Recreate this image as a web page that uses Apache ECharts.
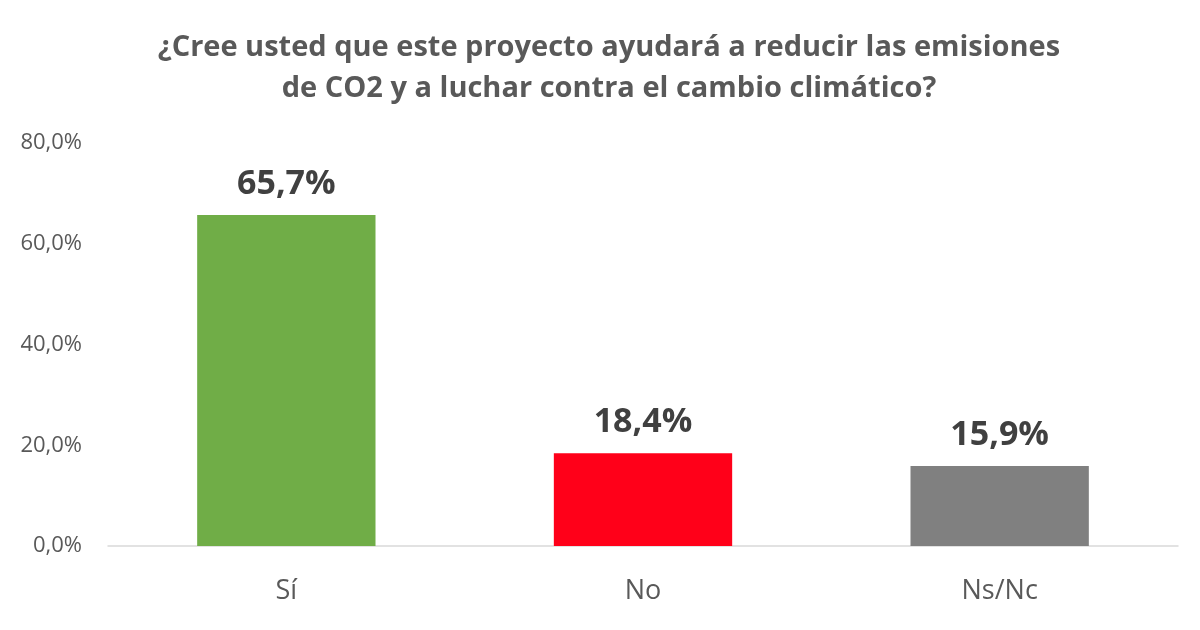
<!DOCTYPE html>
<html><head><meta charset="utf-8">
<script src="https://cdn.jsdelivr.net/npm/echarts@6/dist/echarts.min.js"></script>
<style>html,body{margin:0;padding:0;background:#fff}#c{width:1200px;height:630px}</style>
</head><body><div id="c"></div>
<script>
var categories = ['Sí', 'No', 'Ns/Nc'];
var values = [65.7, 18.4, 15.9];
var barColors = ['#70AD47', '#FF0019', '#808080'];
var yTicks = [0, 20, 40, 60, 80];
var titleText = '¿Cree usted que este proyecto ayudará a reducir las emisiones\nde CO2 y a luchar contra el cambio climático?';

function fmt(v){ return v.toFixed(1).replace('.', ',') + '%'; }

var chart = echarts.init(document.getElementById('c'));
chart.setOption({
  animation: false,
  title: {
    text: titleText, left: 604, textAlign: 'center', top: 22,
    textStyle: { fontFamily: 'Open Sans', fontWeight: 'bold', fontSize: 29, color: '#595959', lineHeight: 41 }
  },
  grid: { left: 108, right: 22, top: 143, bottom: 84 },
  xAxis: {
    type: 'category', data: categories,
    axisLine: { lineStyle: { color: '#D9D9D9', width: 1.5 } },
    axisTick: { show: false },
    axisLabel: { fontFamily: 'Open Sans', fontSize: 27, color: '#595959', margin: 32 }
  },
  yAxis: {
    type: 'value', min: yTicks[0], max: yTicks[yTicks.length - 1], interval: 20,
    splitLine: { show: false },
    axisLine: { show: false }, axisTick: { show: false },
    axisLabel: { fontFamily: 'Open Sans', fontSize: 22, color: '#595959', margin: 26,
      formatter: function(v){ return fmt(v); } }
  },
  series: [{
    type: 'bar', barWidth: '50%',
    data: values.map(function(v, i){ return { value: v, itemStyle: { color: barColors[i] } }; }),
    label: { show: true, position: 'top', distance: 14,
      fontFamily: 'Open Sans', fontWeight: 'bold', fontSize: 34, color: '#404040',
      formatter: function(p){ return fmt(p.value); } }
  }]
});
</script></body></html>
